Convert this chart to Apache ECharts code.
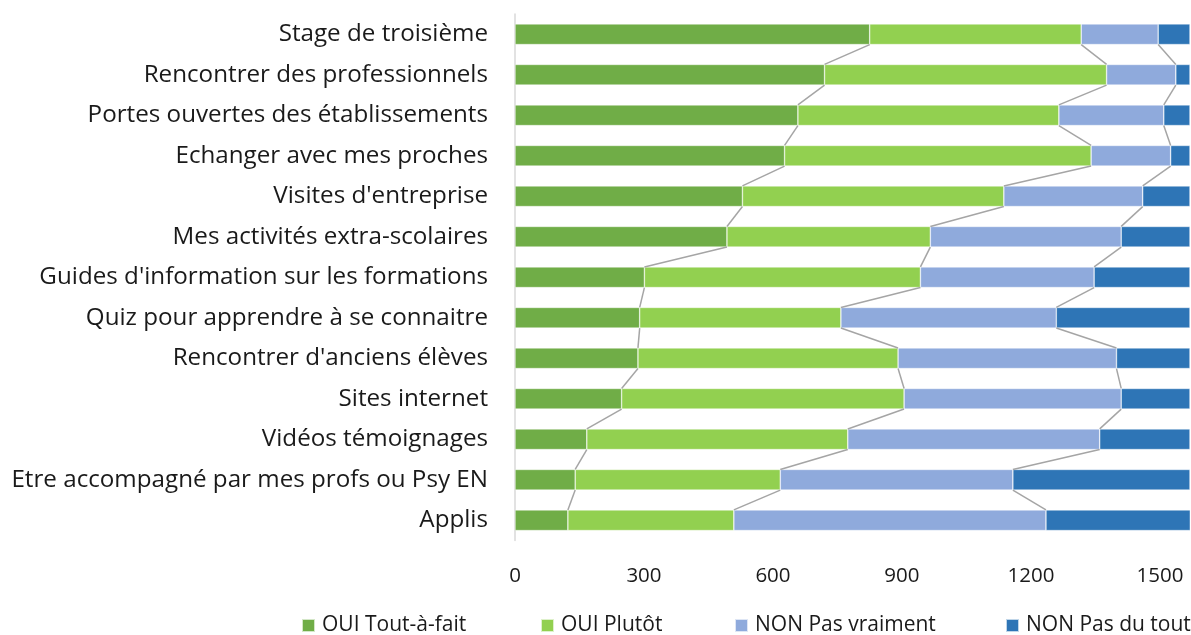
<!DOCTYPE html>
<html>
<head>
<meta charset="utf-8">
<script src="https://cdn.jsdelivr.net/npm/echarts@6/dist/echarts.min.js"></script>
<style>
  html, body { margin: 0; padding: 0; background: #fff; }
  #chart { width: 1191px; height: 635px; }
</style>
</head>
<body>
<div id="chart"></div>
<script>
const categories = [
  'Stage de troisième',
  'Rencontrer des professionnels',
  'Portes ouvertes des établissements',
  'Echanger avec mes proches',
  "Visites d'entreprise",
  'Mes activités extra-scolaires',
  "Guides d'information sur les formations",
  'Quiz pour apprendre à se connaitre',
  "Rencontrer d'anciens élèves",
  'Sites internet',
  'Vidéos témoignages',
  'Etre accompagné par mes profs ou Psy EN',
  'Applis'
];
const seriesNames = ['OUI Tout-à-fait', 'OUI Plutôt', 'NON Pas vraiment', 'NON Pas du tout'];
const ouiToutAFait = [825, 720, 658, 627, 529, 493, 301, 290, 286, 248, 167, 140, 123];
const ouiPlutot = [492, 656, 607, 713, 608, 473, 642, 468, 605, 657, 607, 477, 386];
const nonPasVraiment = [179, 161, 244, 185, 323, 444, 404, 501, 508, 505, 586, 541, 726];
const nonPasDuTout = [74, 33, 61, 45, 110, 160, 223, 311, 171, 160, 210, 412, 336];
const xTicks = [0, 300, 600, 900, 1200, 1500];

const colors = ['#70ad47', '#92d050', '#8faadc', '#2e75b6'];
const FONT = '"Open Sans", sans-serif';
const BAR_RATIO = 0.51;

const values = [ouiToutAFait, ouiPlutot, nonPasVraiment, nonPasDuTout];

// cumulative ends for the series lines (Excel style)
const cumul = [];
let run = categories.map(() => 0);
for (let s = 0; s < 3; s++) {
  run = run.map((v, i) => v + values[s][i]);
  cumul.push(run.slice());
}
const lineData = [];
cumul.forEach(c => {
  for (let i = 0; i < c.length - 1; i++) lineData.push([c[i], c[i + 1], i]);
});

const chart = echarts.init(document.getElementById('chart'));

const barSeries = seriesNames.map((name, k) => ({
  name: name,
  type: 'bar',
  stack: 'total',
  data: values[k],
  barWidth: (BAR_RATIO * 100) + '%',
  itemStyle: { color: colors[k], borderColor: 'rgba(255,255,255,0.7)', borderWidth: 0.6 },
  emphasis: { disabled: true },
  animation: false
}));

const legendX = [301, 540, 734, 1005];

const options = {
  animation: false,
  grid: { left: 515, right: 1, top: 14, bottom: 94.5 },
  legend: seriesNames.map((name, k) => ({
    data: [name],
    left: legendX[k],
    top: 615,
    padding: 0,
    itemWidth: 13,
    itemHeight: 13,
    icon: 'rect',
    selectedMode: false,
    textStyle: { fontFamily: FONT, fontSize: 21, color: '#1a1a1a', padding: [0, 0, 0, 2] }
  })),
  xAxis: {
    type: 'value',
    min: 0,
    max: 1570,
    interval: xTicks[1] - xTicks[0],
    axisLine: { show: false },
    axisTick: { show: false },
    splitLine: { show: false },
    axisLabel: {
      showMaxLabel: false,
      margin: 25,
      fontFamily: FONT,
      fontSize: 20.5,
      color: '#1a1a1a',
      formatter: v => String(v)
    }
  },
  yAxis: {
    type: 'category',
    inverse: true,
    data: categories,
    axisLine: { show: true, lineStyle: { color: '#d9d9d9', width: 1.5 } },
    axisTick: { show: false },
    axisLabel: {
      margin: 27,
      fontFamily: FONT,
      fontSize: 24.2,
      color: '#1a1a1a'
    }
  },
  series: barSeries.concat([{
    type: 'custom',
    name: 'lines',
    coordinateSystem: 'cartesian2d',
    data: lineData,
    encode: { x: [0, 1], y: 2 },
    clip: false,
    z: 3,
    silent: true,
    renderItem: function (params, api) {
      const i = api.value(2);
      const p1 = api.coord([api.value(0), i]);
      const p2 = api.coord([api.value(1), i + 1]);
      const half = api.size([0, 1])[1] * BAR_RATIO / 2;
      return {
        type: 'line',
        shape: { x1: p1[0], y1: p1[1] + half, x2: p2[0], y2: p2[1] - half },
        style: { stroke: '#a5a5a5', lineWidth: 1.5 }
      };
    }
  }])
};

chart.setOption(options);
</script>
</body>
</html>
